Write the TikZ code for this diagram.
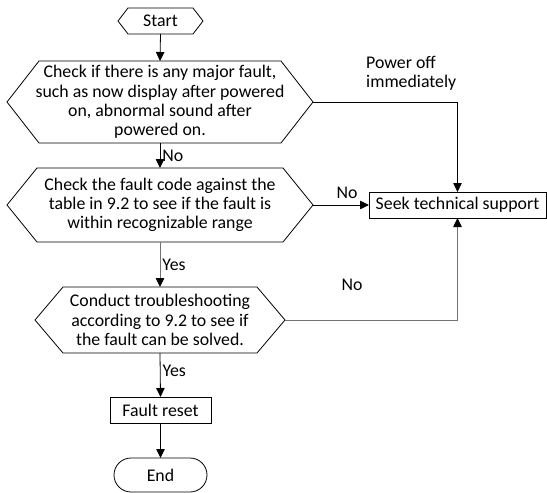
\documentclass[tikz,border=0pt]{standalone}
\usepackage{fontspec}
\setmainfont{Carlito}
\usetikzlibrary{arrows.meta,calc,shapes.misc}
\newcommand\hexpath[2]{\draw[line] (#1.west) -- ($(#1.north west)+(#2,0)$) -- ($(#1.north east)+(-#2,0)$) -- (#1.east) -- ($(#1.south east)+(-#2,0)$) -- ($(#1.south west)+(#2,0)$) -- cycle;}
\begin{document}
\begin{tikzpicture}[x=1pt,y=-1pt,
  every node/.style={font=\fontsize{17.8}{19.2}\selectfont},
  hexnode/.style={inner sep=0pt, outer sep=0pt, align=center},
  boxnode/.style={draw, inner sep=0pt, outer sep=0pt, line width=0.8pt},
  line/.style={line width=0.8pt},
  conn/.style={line width=0.8pt, -{Triangle[length=9pt,width=8.5pt,color=black]}},
  greyconn/.style={conn, draw=black!55},
  lbl/.style={inner sep=2pt}]
\useasboundingbox (0,0) rectangle (547,493);
\node[hexnode, minimum width=85pt, minimum height=26pt] (start) at (160.5,21) {Start};
\hexpath{start}{10}
\node[hexnode, minimum width=306pt, minimum height=82pt] (h1) at (160,102)
  {Check if there is any major fault,\\such as now display after powered\\on, abnormal sound after\\powered on.};
\hexpath{h1}{32}
\node[hexnode, minimum width=306pt, minimum height=74pt] (h2) at (160,205)
  {Check the fault code against the\\table in 9.2 to see if the fault is\\within recognizable range};
\hexpath{h2}{30}
\node[hexnode, minimum width=250pt, minimum height=66pt] (h3) at (160,320)
  {Conduct troubleshooting\\according to 9.2 to see if\\the fault can be solved.};
\hexpath{h3}{28}
\node[boxnode, minimum width=177pt, minimum height=26pt] (seek) at (457.5,205) {Seek technical support};
\node[boxnode, minimum width=101pt, minimum height=26pt] (reset) at (160.5,410) {Fault reset};
\node[boxnode, rounded rectangle, minimum width=93pt, minimum height=34pt] (end) at (160.5,475) {End};
\node[align=left, anchor=west, inner sep=0pt] (poff) at (366,73) {Power off\\immediately};
\node[inner sep=0pt] (no2) at (347,193) {No};
\node[inner sep=0pt] (no3) at (352,285) {No};
\draw[conn] (start.south) -- (h1.north);
\draw[conn] (h1.south) -- node[lbl, right] {No} (h2.north);
\draw[conn] (h1.east) -| (seek.north);
\draw[conn] (h2.east) -- (seek.west);
\draw[greyconn] (h2.south) -- node[lbl, right] {Yes} (h3.north);
\draw[greyconn] (h3.east) -| (seek.south);
\draw[conn] (h3.south) -- node[lbl, right, pos=0.4] {Yes} (reset.north);
\draw[conn] (reset.south) -- (end.north);
\end{tikzpicture}
\end{document}
